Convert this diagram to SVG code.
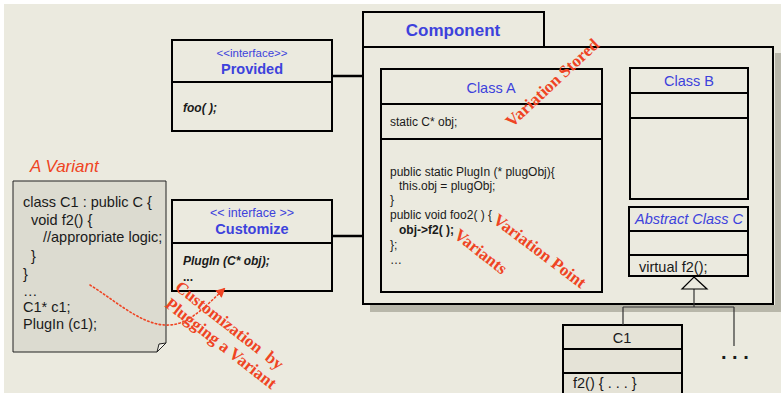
<svg xmlns="http://www.w3.org/2000/svg" width="781" height="393" viewBox="0 0 781 393">
<defs>
<style>
.box{fill:#ebeadf;stroke:#000;stroke-width:2}
.ln{stroke:#000;stroke-width:2;fill:none}
.thin{stroke:#333;stroke-width:1.2;fill:none}
.sans{font-family:"Liberation Sans",Arial,sans-serif}
.blue{fill:#3d42dc}
.t{font-family:"Liberation Sans",Arial,sans-serif;fill:#1a1a1a}
.red{font-family:"Liberation Serif","Times New Roman",serif;font-weight:bold;fill:#ef4423;font-size:17px}
</style>
<marker id="ah" viewBox="0 0 10 10" refX="8" refY="5" markerWidth="6" markerHeight="6" orient="auto">
<path d="M0,0 L10,5 L0,10 Z" fill="#ef4423"/>
</marker>
</defs>
<rect x="0" y="0" width="781" height="393" fill="#ffffff"/>
<rect x="4" y="4" width="777" height="389" fill="#ebeadf"/>

<g id="component">
<rect x="775" y="53" width="6" height="259" fill="#b8b7aa"/>
<rect x="370" y="305" width="411" height="7" fill="#b8b7aa"/>
<rect class="box" x="363" y="12" width="181" height="35"/>
<rect class="box" x="363" y="47" width="410" height="257"/>
<text class="sans blue" x="453" y="36" font-size="17" font-weight="bold" text-anchor="middle">Component</text>
</g>

<g id="provided">
<rect class="box" x="172" y="40" width="160" height="91"/>
<line class="ln" x1="172" y1="82" x2="332" y2="82"/>
<text class="sans blue" x="252" y="57" font-size="11.5" text-anchor="middle">&lt;&lt;interface&gt;&gt;</text>
<text class="sans blue" x="252" y="74" font-size="14.5" font-weight="bold" text-anchor="middle">Provided</text>
<text class="t" x="183" y="112" font-size="12" font-weight="bold" font-style="italic">foo( );</text>
</g>

<g id="customize">
<rect class="box" x="172" y="200" width="160" height="91"/>
<line class="ln" x1="172" y1="243" x2="332" y2="243"/>
<text class="sans blue" x="252" y="217" font-size="12.5" text-anchor="middle">&lt;&lt; interface &gt;&gt;</text>
<text class="sans blue" x="252" y="234" font-size="14.5" font-weight="bold" text-anchor="middle">Customize</text>
<text class="t" x="183" y="265" font-size="12" font-weight="bold" font-style="italic">PlugIn (C* obj);</text>
<text class="t" x="183" y="281" font-size="12" font-weight="bold">...</text>
</g>

<g id="classA">
<rect class="box" x="381" y="69" width="221" height="223"/>
<line class="ln" x1="381" y1="104" x2="602" y2="104"/>
<line class="ln" x1="381" y1="139" x2="602" y2="139"/>
<text class="sans blue" x="491" y="93" font-size="14.5" text-anchor="middle">Class A</text>
<text class="t" x="390" y="126" font-size="12">static C* obj;</text>
<text class="t" x="390" y="176" font-size="12">public static PlugIn (* plugObj){</text>
<text class="t" x="399" y="190" font-size="12">this.obj = plugObj;</text>
<text class="t" x="390" y="204" font-size="12">}</text>
<text class="t" x="390" y="219" font-size="12">public void foo2( ) {</text>
<text class="t" x="399" y="234" font-size="12" font-weight="bold">obj-&gt;f2( );</text>
<text class="t" x="390" y="249" font-size="12">};</text>
<text class="t" x="390" y="264" font-size="12">…</text>
</g>

<g id="classB">
<rect class="box" x="630" y="68" width="118" height="131"/>
<line class="ln" x1="630" y1="93" x2="748" y2="93"/>
<line class="ln" x1="630" y1="118" x2="748" y2="118"/>
<text class="sans blue" x="689" y="86" font-size="14.5" text-anchor="middle">Class B</text>
</g>

<g id="classC">
<rect class="box" x="629" y="207" width="119" height="69"/>
<line class="ln" x1="629" y1="231" x2="748" y2="231"/>
<line class="ln" x1="629" y1="255" x2="748" y2="255"/>
<text class="sans blue" x="689" y="224" font-size="14.5" font-style="italic" text-anchor="middle">Abstract Class C</text>
<text class="t" x="639" y="272" font-size="14.5">virtual f2();</text>
</g>

<g id="c1">
<rect x="563" y="325" width="119" height="80" fill="#e5e3d7" stroke="#000" stroke-width="2"/>
<line class="ln" x1="563" y1="349" x2="682" y2="349"/>
<line class="ln" x1="563" y1="373" x2="682" y2="373"/>
<text class="t" x="622" y="343" font-size="14.5" text-anchor="middle">C1</text>
<text class="t" x="573" y="388" font-size="14.5">f2() { . . . }</text>
</g>

<g id="more">
<text class="t" x="721" y="359" font-size="20" font-weight="bold">. . .</text>
</g>

<g id="variant">
<text x="30" y="172" font-family="Liberation Sans, Arial, sans-serif" font-size="17" font-style="italic" fill="#ef4423">A Variant</text>
<path d="M13,181 H166 V343 L157,352 H13 Z" fill="#dcdbd0" stroke="#222" stroke-width="1"/>
<path d="M157,352 L159,344 L166,343 Z" fill="#f3f2ea" stroke="#222" stroke-width="1"/>
<text class="t" x="23" y="207" font-size="14.5">class C1 : public C {</text>
<text class="t" x="31" y="225" font-size="14.5">void f2() {</text>
<text class="t" x="43" y="242" font-size="14.5">//appropriate logic;</text>
<text class="t" x="31" y="261" font-size="14.5">}</text>
<text class="t" x="23" y="279" font-size="14.5">}</text>
<text class="t" x="23" y="296" font-size="14.5">…</text>
<text class="t" x="23" y="312" font-size="14.5">C1* c1;</text>
<text class="t" x="23" y="329" font-size="14.5">PlugIn (c1);</text>
</g>

<g id="connectors">
<line x1="332" y1="76" x2="363" y2="76" stroke="#000" stroke-width="2.5"/>
<line x1="332" y1="236" x2="363" y2="236" stroke="#000" stroke-width="2.5"/>
<path class="thin" d="M694,289 V307 M623,307 H734 M623,307 V325 M734,307 V346"/>
<path d="M694,277 L707,289 L682,289 Z" fill="#ebeadf" stroke="#000" stroke-width="1.2"/>
<path d="M90,285 C122,305 150,333 180,323 C196,317 210,302 224,289" fill="none" stroke="#ef4423" stroke-width="1.6" stroke-dasharray="1.5 2.5" stroke-linecap="round" marker-end="url(#ah)"/>
</g>

<g id="annotations">
<text class="red" transform="translate(512,128) rotate(-43)">Variation Stored</text>
<text class="red" transform="translate(492,222) rotate(37)">Variation Point</text>
<text class="red" transform="translate(453,237) rotate(38)">Variants</text>
<text class="red" xml:space="preserve" transform="translate(174,289) rotate(38)">Customization  by</text>
<text class="red" transform="translate(164,306) rotate(38)">Plugging a Variant</text>
</g>
</svg>
